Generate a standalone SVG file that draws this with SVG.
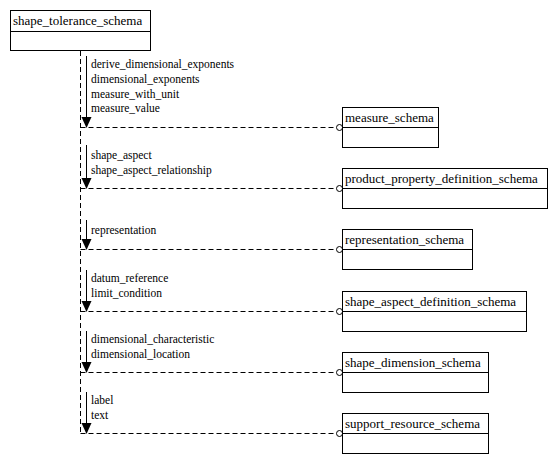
<svg xmlns="http://www.w3.org/2000/svg" width="558" height="465" viewBox="0 0 558 465">
<style>
.box{fill:#fff;stroke:#000;stroke-width:1}
.div{stroke:#000;stroke-width:1}
.dash{fill:none;stroke:#000;stroke-width:1;stroke-dasharray:5,3}
.sol{fill:none;stroke:#000;stroke-width:1}
.end{fill:#fff;stroke:#000;stroke-width:1}
.head{fill:#000;stroke:none}
.lbl{font-size:11.5px}
.ttl{font-size:13px}
</style>
<rect width="558" height="465" fill="#fff"/>
<g font-family="'Liberation Serif', 'Times New Roman', 'DejaVu Serif', serif" fill="#000">
<g id="connectors" class="lbl">
<line class="dash" x1="80.5" y1="51" x2="80.5" y2="434"/>
<line class="dash" x1="80.5" y1="127.5" x2="336.5" y2="127.5"/>
<line class="dash" x1="80.5" y1="188.5" x2="336.5" y2="188.5"/>
<line class="dash" x1="80.5" y1="249.5" x2="336.5" y2="249.5"/>
<line class="dash" x1="80.5" y1="311.5" x2="336.5" y2="311.5"/>
<line class="dash" x1="80.5" y1="372.5" x2="336.5" y2="372.5"/>
<line class="dash" x1="80.5" y1="433.5" x2="336.5" y2="433.5"/>
<circle class="end" cx="339.5" cy="127.5" r="3"/>
<circle class="end" cx="339.5" cy="188.5" r="3"/>
<circle class="end" cx="339.5" cy="249.5" r="3"/>
<circle class="end" cx="339.5" cy="311.5" r="3"/>
<circle class="end" cx="339.5" cy="372.5" r="3"/>
<circle class="end" cx="339.5" cy="433.5" r="3"/>
<line class="sol" x1="86.5" y1="56" x2="86.5" y2="118"/>
<polygon class="head" points="81.5,117 91.5,117 86.5,128"/>
<text x="91" y="68">derive_dimensional_exponents</text>
<text x="91" y="83">dimensional_exponents</text>
<text x="91" y="97.5">measure_with_unit</text>
<text x="91" y="112">measure_value</text>
<line class="sol" x1="86.5" y1="145" x2="86.5" y2="179"/>
<polygon class="head" points="81.5,178 91.5,178 86.5,189"/>
<text x="91" y="159">shape_aspect</text>
<text x="91" y="173.5">shape_aspect_relationship</text>
<line class="sol" x1="86.5" y1="220" x2="86.5" y2="240"/>
<polygon class="head" points="81.5,239 91.5,239 86.5,250"/>
<text x="91" y="234">representation</text>
<line class="sol" x1="86.5" y1="270" x2="86.5" y2="302"/>
<polygon class="head" points="81.5,301 91.5,301 86.5,312"/>
<text x="91" y="282">datum_reference</text>
<text x="91" y="296.5">limit_condition</text>
<line class="sol" x1="86.5" y1="331" x2="86.5" y2="363"/>
<polygon class="head" points="81.5,362 91.5,362 86.5,373"/>
<text x="91" y="343">dimensional_characteristic</text>
<text x="91" y="357.5">dimensional_location</text>
<line class="sol" x1="86.5" y1="392" x2="86.5" y2="424"/>
<polygon class="head" points="81.5,423 91.5,423 86.5,434"/>
<text x="91" y="404">label</text>
<text x="91" y="418.5">text</text>
</g>
<g id="shape_tolerance_schema" class="ttl">
<rect class="box" x="10.5" y="10.5" width="140" height="40"/>
<line class="div" x1="10.5" y1="31.5" x2="150.5" y2="31.5"/>
<text x="13" y="25">shape_tolerance_schema</text>
</g>
<g id="measure_schema" class="ttl">
<rect class="box" x="342.5" y="107.5" width="96" height="40"/>
<line class="div" x1="342.5" y1="127.5" x2="438.5" y2="127.5"/>
<text x="345" y="121.5">measure_schema</text>
</g>
<g id="product_property_definition_schema" class="ttl">
<rect class="box" x="342.5" y="168.5" width="205" height="40"/>
<line class="div" x1="342.5" y1="188.5" x2="547.5" y2="188.5"/>
<text x="345" y="182.5">product_property_definition_schema</text>
</g>
<g id="representation_schema" class="ttl">
<rect class="box" x="342.5" y="229.5" width="130" height="40"/>
<line class="div" x1="342.5" y1="249.5" x2="472.5" y2="249.5"/>
<text x="345" y="243.5">representation_schema</text>
</g>
<g id="shape_aspect_definition_schema" class="ttl">
<rect class="box" x="342.5" y="291.5" width="184" height="40"/>
<line class="div" x1="342.5" y1="311.5" x2="526.5" y2="311.5"/>
<text x="345" y="305.5">shape_aspect_definition_schema</text>
</g>
<g id="shape_dimension_schema" class="ttl">
<rect class="box" x="342.5" y="352.5" width="146" height="40"/>
<line class="div" x1="342.5" y1="372.5" x2="488.5" y2="372.5"/>
<text x="345" y="366.5">shape_dimension_schema</text>
</g>
<g id="support_resource_schema" class="ttl">
<rect class="box" x="342.5" y="413.5" width="146" height="40"/>
<line class="div" x1="342.5" y1="433.5" x2="488.5" y2="433.5"/>
<text x="345" y="427.5">support_resource_schema</text>
</g>
</g>
</svg>
